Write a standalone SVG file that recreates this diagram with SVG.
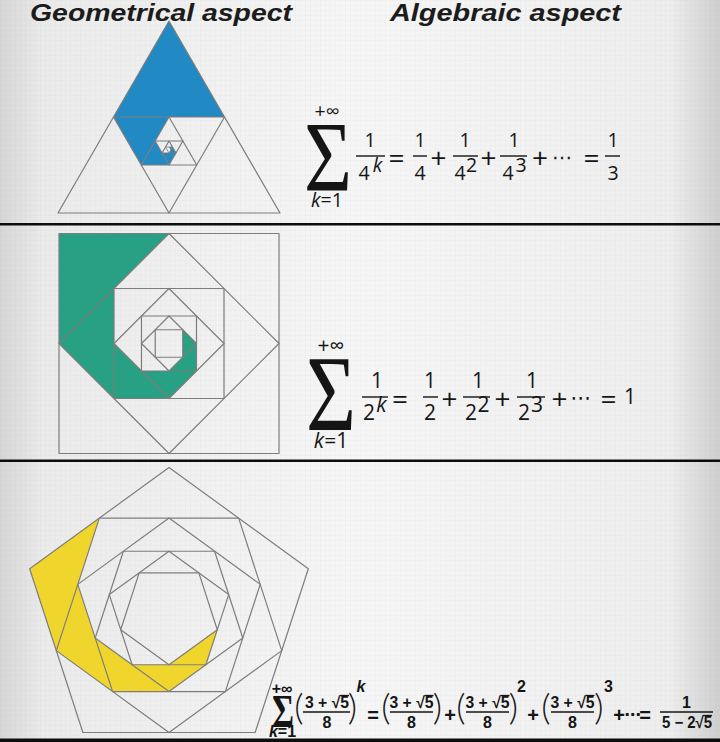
<svg xmlns="http://www.w3.org/2000/svg" width="720" height="742" viewBox="0 0 720 742">
<defs>
<linearGradient id="bg" x1="0" y1="0" x2="1" y2="0">
<stop offset="0" stop-color="#d6d6d6"/>
<stop offset="0.06" stop-color="#ebebeb"/>
<stop offset="0.5" stop-color="#f6f6f6"/>
<stop offset="0.93" stop-color="#eeeeee"/>
<stop offset="1" stop-color="#cfcfcf"/>
</linearGradient>
<pattern id="grid" width="5" height="5" patternUnits="userSpaceOnUse">
<path d="M5 0H0V5" fill="none" stroke="#000" stroke-opacity="0.06" stroke-width="0.6"/>
</pattern>
</defs>
<style>
.title{font-family:"Liberation Sans",Arial,sans-serif;font-weight:bold;font-style:italic;font-size:24px;fill:#1c1c1c}
.m{font-family:"Open Sans","Noto Sans",sans-serif;font-size:19.5px;fill:#151515;text-anchor:middle}
.m2{font-family:"Open Sans","Noto Sans",sans-serif;font-size:21px;fill:#151515;text-anchor:middle}
.op{font-size:28px}
.b{font-family:"Liberation Sans",Arial,sans-serif;font-weight:bold;font-size:16px;fill:#151515;text-anchor:middle}
.bop{font-size:20px}
.p{font-family:"Lato","Open Sans",sans-serif;font-weight:300;font-size:36px;fill:#151515;text-anchor:middle}
.it{font-style:italic}
.sig{font-family:"Liberation Serif","DejaVu Serif",serif;fill:#151515}
.dots{font-family:"DejaVu Sans",sans-serif}
.bar{stroke:#151515;stroke-width:1.4}
.bar3{stroke:#151515;stroke-width:1.6}
.vin{stroke:#151515;stroke-width:1.3}
.g{fill:none;stroke:#7d7d7d;stroke-width:1.2;stroke-linejoin:round}
.sep{fill:#0d0d0d}
</style>
<rect width="720" height="742" fill="url(#bg)"/>
<rect width="720" height="742" fill="url(#grid)"/>

<g id="titles">
<text class="title" x="30" y="21" textLength="262" lengthAdjust="spacingAndGlyphs">Geometrical aspect</text>
<text class="title" x="390" y="21" textLength="231" lengthAdjust="spacingAndGlyphs">Algebraic aspect</text>
</g>

<g id="separators">
<rect class="sep" x="0" y="223" width="720" height="2.5"/>
<rect class="sep" x="0" y="459.5" width="720" height="2.5"/>
<rect class="sep" x="0" y="738.5" width="720" height="3.5"/>
</g>

<g id="triangle">
<g fill="#2189c3">
<polygon points="169,21 113.5,117 224.5,117"/>
<polygon points="113.5,117 169,117 141.25,165"/>
<polygon points="141.25,165 155.125,141 169,165"/>
<polygon points="169,165 162.06,153 175.94,153"/>
<polygon points="175.94,153 172.47,147 169,153"/>
<polygon points="172.47,147 169,147 170.73,150"/>
</g>
<g class="g">
<polygon points="169,21 58,213 280,213"/>
<polygon points="113.5,117 224.5,117 169,213"/>
<polygon points="169,117 141.25,165 196.75,165"/>
<polygon points="155.125,141 182.875,141 169,165"/>
<polygon points="169,141 162.06,153 175.94,153"/>
<polygon points="165.53,147 172.47,147 169,153" stroke-width="0.8"/>
</g>
</g>

<g id="square">
<polygon fill="#27a083" points="59,233.5 169,233.5 114,288.5 114,343.5 141.5,371 169,371 182.75,357.25 182.75,329.75 196.5,343.5 196.5,371 169,398.5 114,398.5 59,343.5"/>
<g class="g">
<rect x="59" y="233.5" width="220" height="220"/>
<polygon points="169,233.5 279,343.5 169,453.5 59,343.5"/>
<rect x="114" y="288.5" width="110" height="110"/>
<polygon points="169,288.5 224,343.5 169,398.5 114,343.5"/>
<rect x="141.5" y="316" width="55" height="55"/>
<polygon points="169,316 196.5,343.5 169,371 141.5,343.5"/>
<rect x="155.25" y="329.75" width="27.5" height="27.5"/>
</g>
</g>

<g id="pentagon">
<g fill="#f0d62c">
<polygon points="29.67,568.73 99.34,518.12 56.28,650.62"/>
<polygon points="56.28,650.62 77.80,584.37 112.64,691.58"/>
<polygon points="112.64,691.58 95.22,637.97 169,691.57"/>
<polygon points="169,691.57 132.11,664.77 205.89,664.77"/>
<polygon points="205.89,664.77 169,664.77 217.29,629.69"/>
</g>
<g class="g">
<polygon points="169,467.5 308.33,568.73 255.11,732.52 82.89,732.52 29.67,568.73"/>
<polygon points="238.66,518.12 281.72,650.62 169,732.52 56.28,650.62 99.34,518.12"/>
<polygon points="169,518.11 260.20,584.37 225.36,691.58 112.64,691.58 77.80,584.37"/>
<polygon points="214.60,551.24 242.78,637.97 169,691.57 95.22,637.97 123.40,551.24"/>
<polygon points="169,551.24 228.69,594.61 205.89,664.77 132.11,664.77 109.31,594.61"/>
<polygon points="198.84,572.93 217.29,629.69 169,664.77 120.71,629.69 139.16,572.93"/>
</g>
</g>

<g id="formula1">
<text class="m" x="327" y="118" font-size="14">+∞</text>
<text class="sig" x="304" y="190" font-size="100" textLength="48" lengthAdjust="spacingAndGlyphs">Σ</text>
<text class="m" x="327" y="207" font-size="14"><tspan class="it">k</tspan>=1</text>
<text class="m" x="370" y="147">1</text>
<line class="bar" x1="356" y1="156" x2="385" y2="156"/>
<text class="m" x="364" y="180">4</text>
<text class="m it" x="377.5" y="172" font-size="13">k</text>
<text class="m op" x="396.5" y="168">=</text>
<text class="m" x="420" y="147">1</text>
<line class="bar" x1="413" y1="156" x2="427" y2="156"/>
<text class="m" x="420" y="180">4</text>
<text class="m op" x="438.5" y="168">+</text>
<text class="m" x="465" y="147">1</text>
<line class="bar" x1="453" y1="156" x2="478" y2="156"/>
<text class="m" x="460" y="180">4</text>
<text class="m" x="471.5" y="172" font-size="13">2</text>
<text class="m op" x="488.5" y="168">+</text>
<text class="m" x="514" y="147">1</text>
<line class="bar" x1="500" y1="156" x2="527" y2="156"/>
<text class="m" x="508" y="180">4</text>
<text class="m" x="521" y="172" font-size="13">3</text>
<text class="m op" x="540" y="168">+</text>
<text class="m dots" x="562" y="164" font-size="17">⋯</text>
<text class="m op" x="591.5" y="168">=</text>
<text class="m" x="613" y="147">1</text>
<line class="bar" x1="605" y1="156" x2="620" y2="156"/>
<text class="m" x="613" y="180">3</text>
</g>

<g id="formula2">
<text class="m2" x="331" y="353" font-size="15">+∞</text>
<text class="sig" x="306" y="430" font-size="108" textLength="50" lengthAdjust="spacingAndGlyphs">Σ</text>
<text class="m2" x="331" y="448" font-size="15"><tspan class="it">k</tspan>=1</text>
<text class="m2" x="377" y="388">1</text>
<line class="bar" x1="362" y1="397" x2="388" y2="397"/>
<text class="m2" x="369" y="420">2</text>
<text class="m2 it" x="381.5" y="412" font-size="14">k</text>
<text class="m2 op" x="400" y="409">=</text>
<text class="m2" x="430" y="388">1</text>
<line class="bar" x1="423" y1="397" x2="438" y2="397"/>
<text class="m2" x="430" y="420">2</text>
<text class="m2 op" x="449.5" y="409">+</text>
<text class="m2" x="478" y="388">1</text>
<line class="bar" x1="463" y1="397" x2="490" y2="397"/>
<text class="m2" x="471" y="420">2</text>
<text class="m2" x="483.5" y="412" font-size="14">2</text>
<text class="m2 op" x="502.5" y="409">+</text>
<text class="m2" x="532" y="388">1</text>
<line class="bar" x1="517" y1="397" x2="545" y2="397"/>
<text class="m2" x="524" y="420">2</text>
<text class="m2" x="537" y="412" font-size="14">3</text>
<text class="m2 op" x="559.5" y="409">+</text>
<text class="m2 dots" x="581" y="405" font-size="18">⋯</text>
<text class="m2 op" x="608.5" y="409">=</text>
<text class="m2" x="630" y="404" font-size="22">1</text>
</g>

<g id="formula3">
<text class="b" x="282" y="694" font-size="8">+∞</text>
<text class="sig" x="272" y="727" font-size="46" font-weight="bold" textLength="22" lengthAdjust="spacingAndGlyphs">Σ</text>
<text class="b" x="282.5" y="736.5" font-size="8.5"><tspan class="it">k</tspan>=1</text>
<text class="p" x="299" y="720">(</text>
<text class="b" x="327" y="708" textLength="44" lengthAdjust="spacingAndGlyphs">3 + √5</text>
<line class="vin" x1="340" y1="695.5" x2="349" y2="695.5"/>
<line class="bar3" x1="303" y1="712" x2="350" y2="712"/>
<text class="b" x="327" y="728">8</text>
<text class="p" x="352.5" y="720">)</text>
<text class="b it" x="361" y="692" font-size="11">k</text>
<text class="b bop" x="373" y="722">=</text>
<text class="p" x="386" y="720">(</text>
<text class="b" x="411.5" y="708" textLength="44" lengthAdjust="spacingAndGlyphs">3 + √5</text>
<line class="vin" x1="424.5" y1="695.5" x2="433.5" y2="695.5"/>
<line class="bar3" x1="390" y1="712" x2="433" y2="712"/>
<text class="b" x="411.5" y="728">8</text>
<text class="p" x="437.5" y="720">)</text>
<text class="b bop" x="450" y="722">+</text>
<text class="p" x="461" y="720">(</text>
<text class="b" x="487.5" y="708" textLength="44" lengthAdjust="spacingAndGlyphs">3 + √5</text>
<line class="vin" x1="500.5" y1="695.5" x2="509.5" y2="695.5"/>
<line class="bar3" x1="466" y1="712" x2="509" y2="712"/>
<text class="b" x="487.5" y="728">8</text>
<text class="p" x="513.5" y="720">)</text>
<text class="b" x="521.5" y="692" font-size="11">2</text>
<text class="b bop" x="533" y="722">+</text>
<text class="p" x="546" y="720">(</text>
<text class="b" x="572.5" y="708" textLength="44" lengthAdjust="spacingAndGlyphs">3 + √5</text>
<line class="vin" x1="585.5" y1="695.5" x2="594.5" y2="695.5"/>
<line class="bar3" x1="551" y1="712" x2="594" y2="712"/>
<text class="b" x="572.5" y="728">8</text>
<text class="p" x="599" y="720">)</text>
<text class="b" x="608.5" y="692" font-size="11">3</text>
<text class="b bop" x="619" y="722">+</text>
<text class="b dots" x="632.5" y="720" font-size="14">⋯</text>
<text class="b bop" x="645" y="722">=</text>
<text class="b" x="686.5" y="708">1</text>
<line class="bar3" x1="660" y1="712" x2="713" y2="712"/>
<text class="b" x="687" y="728" textLength="50" lengthAdjust="spacingAndGlyphs">5 − 2√5</text>
<line class="vin" x1="703" y1="715.5" x2="712" y2="715.5"/>
</g>
</svg>
